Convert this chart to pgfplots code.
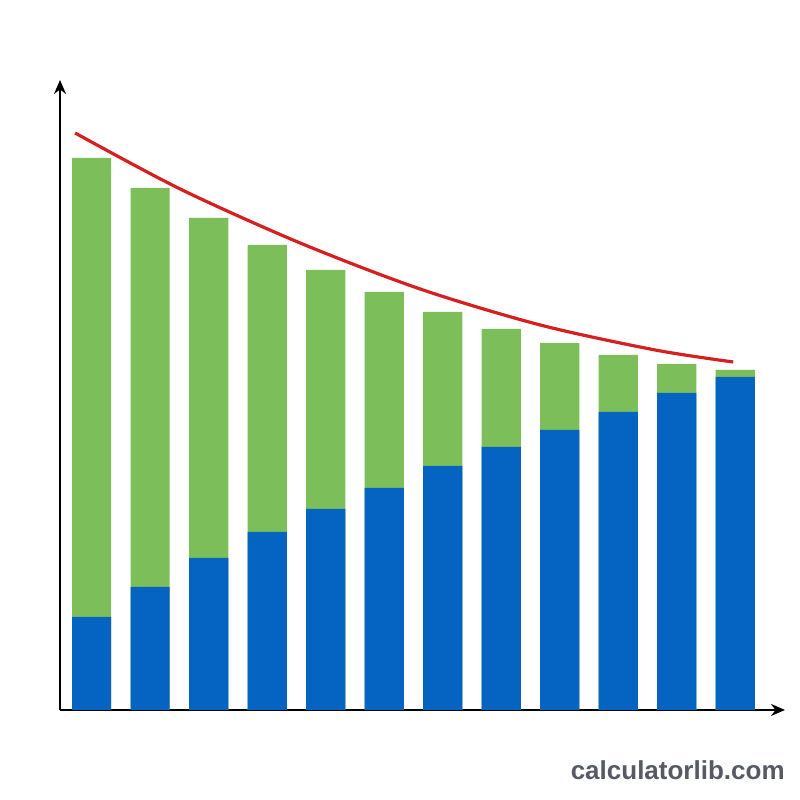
\documentclass[border=0pt]{standalone}
\usepackage{pgfplots}
\pgfplotsset{compat=1.18}
\usetikzlibrary{arrows.meta}
\usepackage{fontspec}
\setmainfont{Liberation Sans}
\definecolor{barblue}{RGB}{5,99,193}
\definecolor{bargreen}{RGB}{124,191,90}
\definecolor{curvered}{RGB}{212,32,32}
\definecolor{wmgray}{RGB}{85,90,100}
\begin{document}
\begin{tikzpicture}
\begin{axis}[
  scale only axis,
  width=362.5pt, height=315pt,
  xmin=0.46, xmax=12.85,
  ymin=0, ymax=630,
  axis lines=left,
  axis line style={line width=1pt, -{Stealth[length=7pt,width=6pt]}},
  xtick=\empty, ytick=\empty,
  ybar, bar shift=0pt,
  bar width=0.67,
  clip=false,
]
% total height (blue + green)
\addplot[fill=bargreen, draw=none] coordinates {
(1,552) (2,522) (3,492) (4,465) (5,440) (6,418) (7,398) (8,381) (9,367) (10,355) (11,346) (12,340)};
% blue part
\addplot[fill=barblue, draw=none] coordinates {
(1,93) (2,123) (3,152) (4,178) (5,201) (6,222) (7,244) (8,263) (9,280) (10,298) (11,317) (12,333)};
\addplot[smooth, curvered, line width=1.6pt, no marks] coordinates {
(0.718,577) (2.513,521) (4.564,467) (6.615,421) (8.667,385) (10.632,360) (11.966,348)};
\path (rel axis cs:-0.0828,-0.1429) rectangle (rel axis cs:1.0207,1.127);
\node[anchor=base east, font=\bfseries\fontsize{13}{13}\selectfont, text=wmgray, inner sep=0pt] at (rel axis cs:1.0,-0.111) {calculatorlib.com};
\end{axis}
\end{tikzpicture}
\end{document}
